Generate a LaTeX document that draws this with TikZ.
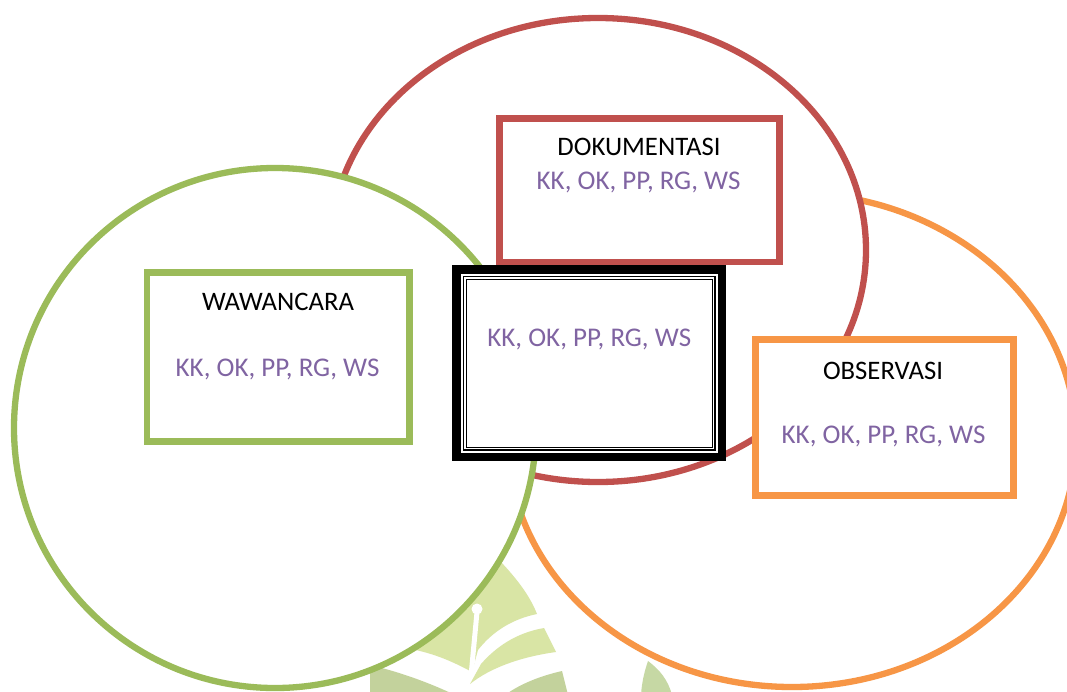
\documentclass[tikz,border=0pt]{standalone}
\usepackage{fontspec}
\setmainfont{Carlito}
\usetikzlibrary{calc}

\definecolor{cRed}{HTML}{C0504D}
\definecolor{cGreen}{HTML}{9BBB59}
\definecolor{cOrange}{HTML}{F79646}
\definecolor{cPurple}{HTML}{8064A2}
\definecolor{wmPale}{HTML}{D9E5A5}
\definecolor{wmDark}{HTML}{C3D29C}
\definecolor{wmMid}{HTML}{C6D8A4}

\begin{document}
\begin{tikzpicture}[x=1pt, y=-1pt,
  ring/.style={fill=white, line width=6.3pt},
  labbox/.style={rectangle, fill=white, inner sep=0pt, outer sep=0pt, line width=6.7pt},
  title/.style={anchor=base, inner sep=0pt, text=black, font=\fontsize{26.7}{32}\selectfont},
  codes/.style={anchor=base, inner sep=0pt, text=cPurple, font=\fontsize{27}{32}\selectfont}]

\useasboundingbox (0,0) rectangle (1067,691);
\fill[white] (0,0) rectangle (1067,691);
\clip (0,0) rectangle (1067,691);

% faint logo behind the rings
\fill[wmPale] (470,520) -- (501,562) .. controls (517,579) and (530,596) .. (537,614)
  .. controls (512,619) and (492,632) .. (478,650) -- (472,672)
  .. controls (450,660) and (430,652) .. (405,648) -- (420,560) -- cycle;
\fill[wmPale] (544,628) .. controls (515,633) and (495,648) .. (481,664) -- (470,684)
  .. controls (490,668) and (520,657) .. (556,652) -- cycle;
\fill[wmDark] (370,665) .. controls (400,672) and (430,683) .. (455,695) -- (370,695) -- cycle;
\fill[wmDark] (505,695) .. controls (520,684) and (540,676) .. (562,671) -- (568,695) -- cycle;
\fill[wmMid] (648,661) .. controls (660,670) and (668,680) .. (672,695) -- (641,695)
  .. controls (642,680) and (645,670) .. (648,661) -- cycle;
\draw[white, line width=5pt] (477,612) -- (471,676);
\fill[white] (477,609) circle (5.5pt);

% overlapping rings
\draw[ring, draw=cOrange] (792,440) ellipse [x radius=284pt, y radius=247pt];
\draw[ring, draw=cRed] (598,250) ellipse [x radius=268pt, y radius=232pt];
\draw[ring, draw=cGreen] (275,428) ellipse [x radius=261pt, y radius=260pt];

% method boxes
\node[labbox, draw=cRed, line width=6.5pt, minimum width=280.2pt, minimum height=143.5pt] (dok) at (639.6,190.25) {};
\node[title] (dokT) at (639,155) {DOKUMENTASI};
\node[codes] (dokC) at (638.5,189.3) {KK, OK, PP, RG, WS};

\node[labbox, draw=cGreen, minimum width=262.3pt, minimum height=169pt] (waw) at (278.15,357.2) {};
\node[title] (wawT) at (278,310.7) {WAWANCARA};
\node[codes] (wawC) at (277.5,376) {KK, OK, PP, RG, WS};

\node[labbox, draw=cOrange, minimum width=257.6pt, minimum height=155.6pt] (obs) at (884.5,417.5) {};
\node[title] (obsT) at (883,379.3) {OBSERVASI};
\node[codes] (obsC) at (883.5,443.3) {KK, OK, PP, RG, WS};

% shared result box with a thick-thin-thin frame
\node[labbox, draw=black, line width=8.3pt, minimum width=265.4pt, minimum height=187.4pt] (mid) at (589.15,363.15) {};
\draw[line width=1.3pt] ($(mid.north west)+(6.8,6.8)$) rectangle ($(mid.south east)+(-6.8,-6.8)$);
\draw[line width=1.3pt] ($(mid.north west)+(9.7,9.7)$) rectangle ($(mid.south east)+(-9.7,-9.7)$);
\node[codes] (midC) at (589.2,346.7) {KK, OK, PP, RG, WS};

\end{tikzpicture}
\end{document}
